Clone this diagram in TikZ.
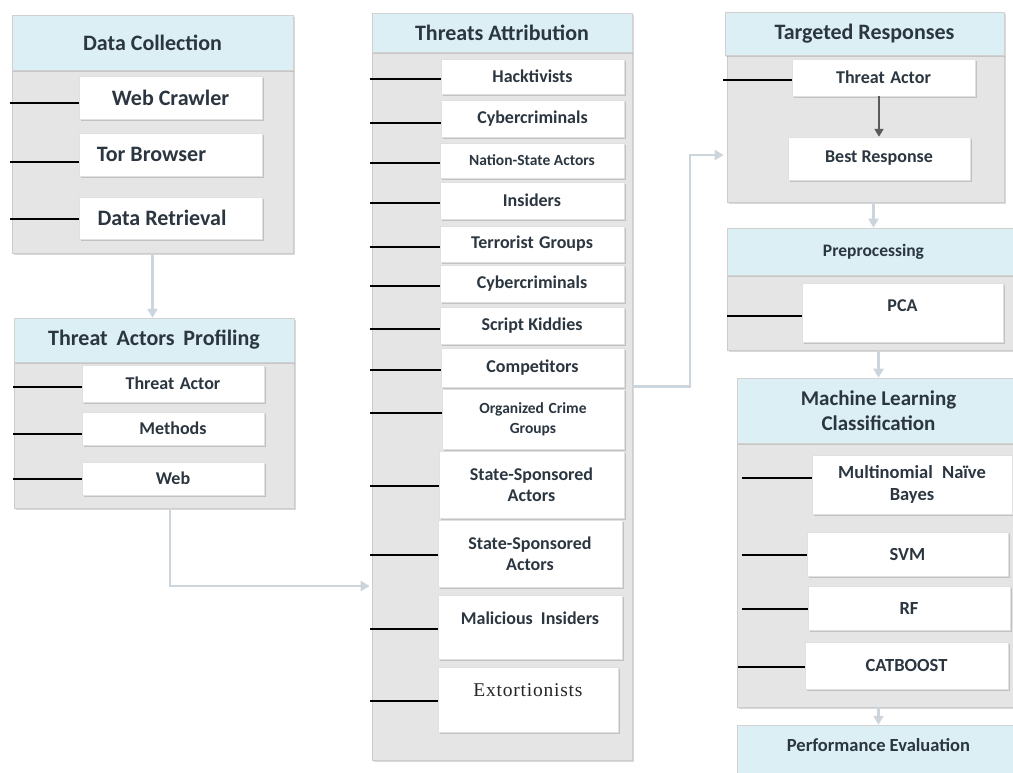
\documentclass[tikz,border=0pt]{standalone}
\usepackage{fontspec}
\setmainfont{Carlito}
\newfontfamily\serifx[LetterSpace=4]{Liberation Serif}
\usetikzlibrary{shadows,calc,arrows.meta}
\definecolor{panelgray}{HTML}{E5E5E5}
\definecolor{hdrblue}{HTML}{DBEFF5}
\definecolor{txt}{HTML}{2B3640}
\definecolor{flowc}{HTML}{CCD4DC}
\definecolor{darkarrow}{HTML}{5A5A5A}
\tikzset{
  panel/.style={draw=black!20, fill=panelgray, line width=0.6pt,
    drop shadow={shadow xshift=1.5pt, shadow yshift=-2pt, opacity=0.3}, inner sep=0pt},
  hdr/.style={draw=black!18, fill=hdrblue, line width=0.5pt, text=txt, align=center,
    drop shadow={shadow xshift=1pt, shadow yshift=-2pt, opacity=0.3}, inner sep=0pt,
    font=\fontsize{22}{24}\selectfont\bfseries},
  sbox/.style={draw=black!12, fill=white, line width=0.5pt, text=txt, align=center,
    drop shadow={shadow xshift=1.5pt, shadow yshift=-2pt, opacity=0.35}, inner sep=2pt,
    font=\fontsize{18}{21}\selectfont\bfseries},
  big/.style={font=\fontsize{22}{24}\selectfont\bfseries},
  small/.style={font=\fontsize{15.5}{20}\selectfont\bfseries},
  mid/.style={font=\fontsize{18.5}{22}\selectfont\bfseries},
  conn/.style={draw=black, line width=2.8pt},
  flow/.style={draw=flowc, line width=2.2pt, -{Triangle[length=9pt,width=10pt]}},
  inner arrow/.style={draw=darkarrow, line width=2.2pt, -{Triangle[length=8pt,width=9pt]}},
}
\begin{document}
\begin{tikzpicture}[x=1pt,y=-1pt]
\useasboundingbox (0,0) rectangle (1013,772);
% ---------- Data Collection ----------
\node[panel, minimum width=281pt, minimum height=238pt] (dcP) at (152.5,134) {};
\node[hdr, minimum width=281pt, minimum height=55pt] (dcH) at (152.5,42.5) {Data Collection};
\node[sbox, big, minimum width=183pt, minimum height=43pt] (wc) at (170.5,97.5) {Web Crawler};
\node[sbox, big, minimum width=183pt, minimum height=43pt] (tb) at (170.5,154.5) {Tor Browser\hspace*{38pt}};
\node[sbox, big, minimum width=183pt, minimum height=42pt] (dr) at (170.5,218) {Data Retrieval\hspace*{17pt}};
\coordinate (lwc) at (10,103);
\coordinate (ltb) at (10,162);
\coordinate (ldr) at (10,219);
\draw[conn] (lwc) -- (lwc -| wc.west);
\draw[conn] (ltb) -- (ltb -| tb.west);
\draw[conn] (ldr) -- (ldr -| dr.west);
% ---------- Threat Actors Profiling ----------
\node[panel, minimum width=280pt, minimum height=190pt] (tapP) at (154,413) {};
\node[hdr, minimum width=280pt, minimum height=44pt] (tapH) at (154,340) {Threat\hspace{0.4em}Actors\hspace{0.4em}Profiling};
\node[sbox, minimum width=182pt, minimum height=37pt] (ta1) at (173,383.5) {Threat\hspace{0.3em}Actor};
\node[sbox, minimum width=182pt, minimum height=33pt] (me) at (173,428.5) {Methods};
\node[sbox, minimum width=182pt, minimum height=33pt] (wb) at (173,478.5) {Web};
\coordinate (lta1) at (13,387);
\coordinate (lme) at (13,434);
\coordinate (lwb) at (13,479);
\draw[conn] (lta1) -- (lta1 -| ta1.west);
\draw[conn] (lme) -- (lme -| me.west);
\draw[conn] (lwb) -- (lwb -| wb.west);
\draw[flow] (dcP.south) -- (dcP.south |- tapH.north);
% ---------- Threats Attribution ----------
\node[panel, minimum width=260pt, minimum height=747pt] (taP) at (502,386.5) {};
\node[hdr, minimum width=260pt, minimum height=39pt] (taH) at (502,32.5) {Threats Attribution};
\node[sbox, minimum width=183pt, minimum height=35pt] (hk) at (532.5,76.5) {Hacktivists};
\node[sbox, minimum width=183pt, minimum height=37pt] (cc1) at (532.5,118.5) {Cybercriminals};
\node[sbox, small, minimum width=184pt, minimum height=35pt] (ns) at (532,160.5) {Nation-State Actors};
\node[sbox, minimum width=184pt, minimum height=37pt] (ins) at (532,200.5) {Insiders};
\node[sbox, minimum width=184pt, minimum height=36pt] (tg) at (532,244) {Terrorist\hspace{0.3em}Groups};
\node[sbox, minimum width=184pt, minimum height=37pt] (cc2) at (532,283.5) {Cybercriminals};
\node[sbox, minimum width=184pt, minimum height=37pt] (sk) at (532,325.5) {Script Kiddies};
\node[sbox, minimum width=183pt, minimum height=39pt] (cp) at (532.5,367.5) {Competitors};
\node[sbox, small, minimum width=182pt, minimum height=60pt] (oc) at (533,419) {Organized\hspace{0.3em}Crime\\Groups};
\node[sbox, minimum width=185pt, minimum height=67pt] (ss1) at (531.5,484.5) {State-Sponsored\\Actors};
\node[sbox, minimum width=184pt, minimum height=67pt] (ss2) at (530,553.5) {State-Sponsored\\Actors};
\node[sbox, minimum width=184pt, minimum height=64pt, text depth=17pt] (mi) at (530,627) {Malicious\hspace{0.45em}Insiders};
\node[sbox, minimum width=180pt, minimum height=65pt, text depth=18pt, text=black!85, font=\fontsize{19.5}{22}\selectfont\serifx] (ex) at (528,699.5) {Extortionists};
\foreach \n/\y in {hk/79, cc1/123, ns/163, ins/203, tg/247, cc2/286, sk/329, cp/370, oc/413, ss1/486, ss2/555, mi/629, ex/701}{
  \coordinate (l\n) at (370,\y);
  \draw[conn] (l\n) -- (l\n -| \n.west);
}
\draw[flow] ($(tapP.south)+(16,0)$) |- ($(taP.west)+(-2,199.5)$);
% ---------- Targeted Responses ----------
\node[panel, minimum width=277pt, minimum height=190pt] (trP) at (865.5,107) {};
\node[hdr, minimum width=279pt, minimum height=43pt] (trH) at (864.5,33.5) {Targeted Responses};
\node[sbox, minimum width=183pt, minimum height=37pt] (ta2) at (883.5,77.5) {Threat\hspace{0.3em}Actor};
\node[sbox, minimum width=182pt, minimum height=43pt] (br) at (879,158.5) {Best Response};
\coordinate (lta2) at (723,80);
\draw[conn] (lta2) -- (lta2 -| ta2.west);
\draw[inner arrow] (br.north |- ta2.south) -- (br.north);
\draw[flow] (taP.east) -- ($(taP.east)+(58,0)$) |- ($(trP.west)+(-3,48)$);
% ---------- Preprocessing ----------
\node[panel, minimum width=293pt, minimum height=122pt] (ppP) at (873.5,289) {};
\node[hdr, font=\fontsize{17.5}{21}\selectfont\bfseries, minimum width=293pt, minimum height=47pt] (ppH) at (873.5,251.5) {Preprocessing};
\node[sbox, minimum width=201pt, minimum height=59pt, text depth=14pt] (pca) at (902.5,312.5) {PCA};
\coordinate (lpca) at (727,316);
\draw[conn] (lpca) -- (lpca -| pca.west);
\draw[flow] (ppP.north |- trP.south) -- (ppP.north);
% ---------- Machine Learning Classification ----------
\node[panel, minimum width=283pt, minimum height=329pt] (mlP) at (878.5,542.5) {};
\node[hdr, font=\fontsize{21}{25}\selectfont\bfseries, minimum width=283pt, minimum height=65pt] (mlH) at (878.5,410.5) {Machine Learning\\Classification};
\node[sbox, mid, minimum width=200pt, minimum height=59pt] (mnb) at (912,484.5) {Multinomial\hspace{0.5em}Naïve\\Bayes};
\node[sbox, mid, minimum width=201pt, minimum height=44pt] (svm) at (907.5,554) {SVM};
\node[sbox, mid, minimum width=202pt, minimum height=44pt] (rf) at (909,608) {RF};
\node[sbox, mid, minimum width=203pt, minimum height=47pt] (cb) at (906.5,665.5) {CATBOOST};
\coordinate (lmnb) at (742,478);
\coordinate (lsvm) at (742,555);
\coordinate (lrf) at (742,609);
\coordinate (lcb) at (738,667);
\draw[conn] (lmnb) -- (lmnb -| mnb.west);
\draw[conn] (lsvm) -- (lsvm -| svm.west);
\draw[conn] (lrf) -- (lrf -| rf.west);
\draw[conn] (lcb) -- (lcb -| cb.west);
\draw[flow] (mlP.north |- ppP.south) -- (mlP.north);
% ---------- Performance Evaluation ----------
\node[hdr, font=\fontsize{18.5}{22}\selectfont\bfseries, minimum width=283pt, minimum height=60pt, text depth=21pt] (peH) at (878.5,755) {Performance Evaluation};
\draw[flow] (peH.north |- mlP.south) -- (peH.north);
\end{tikzpicture}
\end{document}
